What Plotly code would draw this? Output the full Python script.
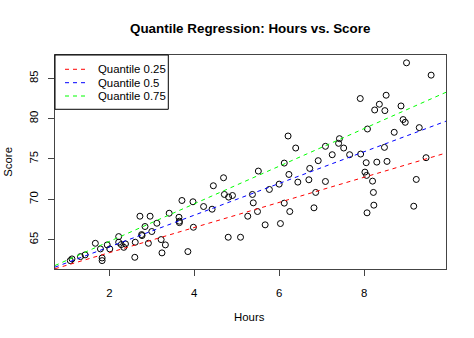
import plotly.graph_objects as go

# Study hours and exam scores
hours = [1.08, 1.12, 1.32, 1.43, 1.67, 1.79, 1.83, 1.83, 1.95, 2.01,
         2.22, 2.22, 2.28, 2.34, 2.38, 2.60, 2.61, 2.72, 2.76, 2.77,
         2.84, 2.92, 2.96, 3.00, 3.12, 3.22, 3.24, 3.32, 3.41, 3.64,
         3.65, 3.65, 3.71, 3.85, 3.97, 3.98, 4.22, 4.42, 4.45, 4.69,
         4.71, 4.81, 4.90, 4.80, 5.09, 5.26, 5.37, 5.39, 5.49, 5.51,
         5.67, 5.77, 6.03, 6.00, 6.12, 6.12, 6.21, 6.23, 6.25, 6.39,
         6.44, 6.70, 6.72, 6.82, 6.86, 6.92, 7.09, 7.09, 7.25, 7.40,
         7.42, 7.52, 7.66, 7.91, 7.92, 8.02, 8.05, 8.06, 8.07, 8.08,
         8.20, 8.22, 8.23, 8.25, 8.30, 8.36, 8.49, 8.52, 8.48, 8.54,
         8.71, 8.87, 8.92, 8.97, 9.00, 9.17, 9.23, 9.30, 9.46, 9.58]
scores = [62.39, 62.60, 62.89, 63.10, 64.54, 63.84, 62.72, 62.39, 64.34, 63.84,
          65.37, 64.67, 64.38, 64.04, 64.46, 62.80, 64.67, 67.90, 65.62, 65.50,
          66.62, 64.54, 67.90, 66.00, 67.03, 65.00, 63.35, 64.34, 68.27, 67.77,
          67.28, 67.10, 69.85, 63.51, 69.69, 66.53, 69.10, 68.77, 71.68, 72.67,
          70.60, 70.27, 70.47, 65.29, 65.29, 67.90, 70.60, 69.56, 68.48, 73.50,
          66.83, 71.22, 66.99, 71.88, 69.52, 74.49, 77.85, 73.08, 68.48, 76.36,
          72.13, 72.42, 73.83, 68.94, 70.85, 74.79, 76.57, 72.21, 75.53, 76.94,
          77.52, 76.36, 75.53, 82.50, 75.61, 73.37, 74.54, 72.96, 68.32, 78.72,
          72.25, 70.85, 69.27, 81.08, 74.61, 81.79, 81.00, 82.91, 76.44, 74.70,
          78.31, 81.58, 79.89, 79.55, 86.93, 69.14, 72.46, 78.89, 75.16, 85.40]

# Fitted quantile regression lines: score = intercept + slope * hours
quantiles = [0.25, 0.5, 0.75]
intercepts = [60.26, 60.16, 60.10]
slopes = [1.559, 1.967, 2.334]
line_colors = ["#FF0000", "#0000FF", "#00FF00"]

x_ticks = [2, 4, 6, 8]
y_ticks = [65, 70, 75, 80, 85]
x_range = [0.72, 9.93]
y_range = [61.35, 87.9]

FONT = "Liberation Sans, Arial, Helvetica, sans-serif"
BASE = 11.4

fig = go.Figure()

fig.add_trace(go.Scatter(
    x=hours, y=scores, mode="markers", showlegend=False,
    marker=dict(symbol="circle-open", size=6, color="black",
                line=dict(width=1, color="black")),
    hoverinfo="x+y",
))

# abline-style fits spanning the full plotting region
for q, a, b, c in zip(quantiles, intercepts, slopes, line_colors):
    xs = [x_range[0], x_range[1]]
    fig.add_trace(go.Scatter(
        x=xs, y=[a + b * v for v in xs], mode="lines", showlegend=False,
        line=dict(color=c, width=1, dash="4px,4px"),
        name=f"Quantile {q}",
    ))

# Legend box in the top-left corner of the plot
L_LEFT, L_RIGHT, L_BOTTOM = 0.0, 0.2898, 0.7463
row_y = [0.9332, 0.8706, 0.8084]
fig.add_shape(type="rect", xref="paper", yref="paper",
              x0=L_LEFT, x1=L_RIGHT, y0=L_BOTTOM, y1=1.0,
              line=dict(color="black", width=1), fillcolor="white", layer="above")
for q, c, ry in zip(quantiles, line_colors, row_y):
    fig.add_shape(type="line", xref="paper", yref="paper",
                  x0=0.0256, x1=0.0793, y0=ry, y1=ry,
                  line=dict(color=c, width=1, dash="4px,4px"), layer="above")
    fig.add_annotation(xref="paper", yref="paper", x=0.1049, y=ry,
                       text=f"Quantile {q}", showarrow=False,
                       xanchor="left", yanchor="middle",
                       font=dict(family=FONT, size=BASE, color="black"))

# Title and axis titles
fig.add_annotation(xref="paper", yref="paper", x=0.4987, y=1.1248,
                   text="<b>Quantile Regression: Hours vs. Score</b>", showarrow=False,
                   xanchor="center", yanchor="middle",
                   font=dict(family=FONT, size=13.4, color="black"))
fig.add_annotation(xref="paper", yref="paper", x=0.4987, y=-0.224,
                   text="Hours", showarrow=False, xanchor="center", yanchor="middle",
                   font=dict(family=FONT, size=BASE, color="black"))
fig.add_annotation(xref="paper", yref="paper", x=-0.120, y=0.5014,
                   text="Score", showarrow=False, textangle=-90,
                   xanchor="center", yanchor="middle",
                   font=dict(family=FONT, size=BASE, color="black"))

axis_common = dict(
    showgrid=False, zeroline=False, showline=True, mirror=True,
    linecolor="#444", linewidth=1, ticks="outside", ticklen=6,
    tickcolor="#444", tickwidth=1,
    tickfont=dict(family=FONT, size=BASE, color="black"),
)
fig.update_xaxes(range=x_range, tickvals=x_ticks, ticklabelstandoff=7, **axis_common)
fig.update_yaxes(range=y_range, tickvals=y_ticks, tickangle=-90,
                 ticklabelstandoff=5, **axis_common)

fig.update_layout(
    width=474, height=338,
    margin=dict(l=55, r=28, t=55, b=69),
    paper_bgcolor="white", plot_bgcolor="white",
    font=dict(family=FONT, size=BASE, color="black"),
)

fig.write_html("out.html")
